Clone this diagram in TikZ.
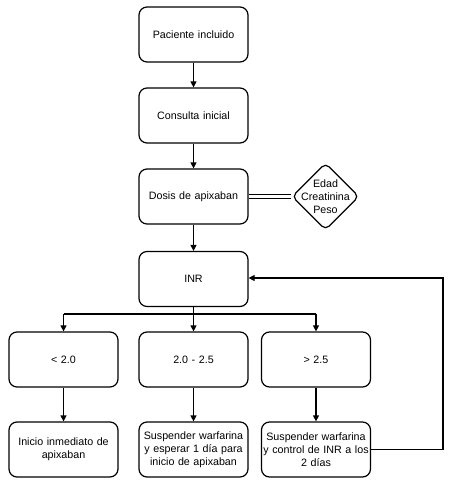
\documentclass[tikz,border=0pt]{standalone}
\usepackage{fontspec}
\setmainfont{Liberation Sans}
\usetikzlibrary{shapes.geometric,arrows.meta}
\begin{document}
\begin{tikzpicture}[x=1pt,y=-1pt,
  box/.style={draw, line width=1.2pt, rounded corners=8pt, minimum width=109pt, minimum height=55pt, align=center, font=\fontsize{10.7}{13}\selectfont, inner sep=1pt, text width=107pt},
  dia/.style={draw, line width=1.2pt, diamond, rounded corners=5pt, minimum width=67pt, minimum height=67pt, inner sep=-7.5pt, align=center, font=\fontsize{10.7}{13}\selectfont},
  arr/.style={line width=1.2pt, -{Triangle[length=6pt,width=6pt]}},
  ln/.style={line width=1.2pt}]
\useasboundingbox (0,0) rectangle (450,484);
\node[box] (p) at (193.5,34.5) {Paciente incluido};
\node[box] (c) at (193.5,115.5) {Consulta inicial};
\node[box] (d) at (193.5,196.5) {Dosis de apixaban};
\node[dia] (e) at (325.5,196.5) {Edad\\Creatinina\\Peso};
\node[box] (i) at (193.5,279) {INR};
\node[box] (a1) at (63.5,359.5) {< 2.0};
\node[box] (a2) at (193.5,359.5) {2.0 - 2.5};
\node[box] (a3) at (316,359.5) {> 2.5};
\node[box] (b1) at (63.5,449.5) {Inicio inmediato de\\apixaban};
\node[box] (b2) at (193.5,449.5) {Suspender warfarina\\y esperar 1 día para\\inicio de apixaban};
\node[box] (b3) at (316,449.5) {Suspender warfarina\\y control de INR a los\\2 días};
\coordinate (jn) at (193.5,314);
\coordinate (jl) at (63.5,314);
\coordinate (jr) at (316,314);
\coordinate (r1) at (443,449.5);
\coordinate (r2) at (443,278);
\draw[arr] (p) -- (c);
\draw[arr] (c) -- (d);
\draw[arr] (d) -- (i);
\draw[ln] ([yshift=-2pt]d.east) -- ([yshift=-2pt]e.west);
\draw[ln] ([yshift=2pt]d.east) -- ([yshift=2pt]e.west);
\draw[ln] (i) -- (jn);
\draw[ln] (jl) -- (jr);
\draw[arr] (jn) -- (a2);
\draw[arr] (jl) -- (a1);
\draw[arr] (jr) -- (a3);
\draw[arr] (a1) -- (b1);
\draw[arr] (a2) -- (b2);
\draw[arr] (a3) -- (b3);
\draw[arr] (b3.east) -- (r1) -- (r2) -- (i.east |- r2);
\end{tikzpicture}
\end{document}
